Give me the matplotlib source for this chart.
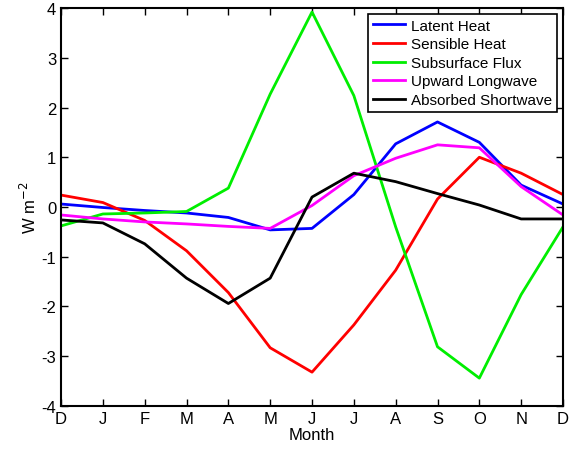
import numpy as np
import matplotlib
matplotlib.use("Agg")
import matplotlib.pyplot as plt

plt.rcParams['font.family'] = ['Liberation Sans', 'DejaVu Sans']
plt.rcParams['axes.unicode_minus'] = False

months = ['D', 'J', 'F', 'M', 'A', 'M', 'J', 'J', 'A', 'S', 'O', 'N', 'D']
latent = [0.06, -0.01, -0.07, -0.12, -0.21, -0.46, -0.43, 0.25, 1.27, 1.71, 1.30, 0.44, 0.06]
sensible = [0.24, 0.09, -0.27, -0.88, -1.72, -2.83, -3.32, -2.37, -1.27, 0.16, 1.00, 0.68, 0.25]
subsurface = [-0.38, -0.14, -0.12, -0.09, 0.38, 2.27, 3.92, 2.24, -0.40, -2.81, -3.44, -1.76, -0.40]
longwave = [-0.16, -0.24, -0.30, -0.34, -0.39, -0.43, 0.03, 0.63, 0.98, 1.25, 1.19, 0.41, -0.16]
shortwave = [-0.26, -0.32, -0.74, -1.43, -1.94, -1.43, 0.20, 0.68, 0.51, 0.27, 0.04, -0.24, -0.24]

x = np.arange(len(months))

fig = plt.figure(figsize=(5.76, 4.52), dpi=100)
ax = fig.add_axes([0.106, 0.0996, 0.8714, 0.8804])

ax.plot(x, latent, color='#0000ff', lw=2, label='Latent Heat')
ax.plot(x, sensible, color='#ff0000', lw=2, label='Sensible Heat')
ax.plot(x, subsurface, color='#00ee00', lw=2, label='Subsurface Flux')
ax.plot(x, longwave, color='#ff00ff', lw=2, label='Upward Longwave')
ax.plot(x, shortwave, color='#000000', lw=2, label='Absorbed Shortwave')

ax.set_xlim(0, 12)
ax.set_ylim(-4, 4)
ax.set_xticks(x)
ax.set_xticklabels(months)
ax.set_yticks(range(-4, 5))
ax.tick_params(direction='in', top=True, right=True, labelsize=12, length=5, width=1)
for s in ax.spines.values():
    s.set_linewidth(1.5)
ax.set_xlabel('Month', fontsize=12, labelpad=1)
ax.set_ylabel('W m$^{-2}$', fontsize=12, labelpad=2)

leg = ax.legend(loc='upper right', fontsize=11, fancybox=False, framealpha=1,
                edgecolor='black', borderaxespad=0.4, handlelength=2.1,
                handletextpad=0.4, labelspacing=0.3, borderpad=0.3)
leg.get_frame().set_linewidth(1.2)

fig.savefig('out.png', dpi=100)
